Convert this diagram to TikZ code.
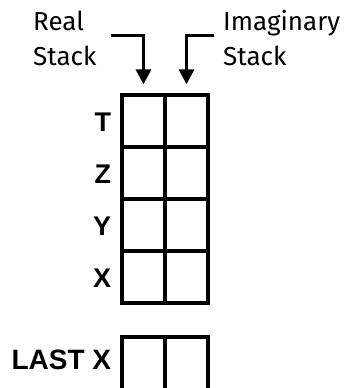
\documentclass[tikz,border=0pt]{standalone}
\usepackage{fontspec}
\setmainfont{Fira Sans}
\newfontfamily\regfont{Liberation Sans}
\usetikzlibrary{positioning,arrows.meta}

\begin{document}
\begin{tikzpicture}[x=1pt, y=-1pt,
    cell/.style={draw, line width=3.3pt, minimum width=43pt, minimum height=52pt, inner sep=0pt},
    reglabel/.style={font=\regfont\bfseries\fontsize{27}{30}\selectfont, inner sep=0pt},
    caption/.style={font=\fontsize{26}{30}\selectfont, inner sep=0pt, anchor=base west},
    pointer/.style={line width=3pt, -{Triangle[length=15pt,width=15pt]}, shorten >=9pt}]
    \useasboundingbox (0,0) rectangle (348,388);
    % stack registers
    \foreach \reg/\height [count=\index] in {T/121,Z/173,Y/225,X/277} {
        \node[cell] (re-\index) at (143.5,\height) {};
        \node[cell] (im-\index) at (186.5,\height) {};
        \node[reglabel, left=9pt of re-\index, yshift=-1pt] (lab-\index) {\reg};
    }
    % last x register, cut off at the bottom
    \node[cell, minimum height=58pt] (lastre) at (143.5,366) {};
    \node[cell, minimum height=58pt] (lastim) at (186.5,366) {};
    \node[reglabel, font=\regfont\bfseries\fontsize{28}{30}\selectfont, left=9pt of lastre, yshift=6pt] (lastlab) {LAST X};
    % captions
    \node[caption] (real-1) at (33,30) {Real};
    \node[caption] (real-2) at (33,65) {Stack};
    \node[caption] (imag-1) at (223,30) {Imaginary};
    \node[caption] (imag-2) at (223,65) {Stack};
    \coordinate (re-tail) at (111,35);
    \coordinate (im-tail) at (214,35);
    \draw[pointer] (re-tail) -| (re-1.north);
    \draw[pointer] (im-tail) -| (im-1.north);
\end{tikzpicture}
\end{document}
